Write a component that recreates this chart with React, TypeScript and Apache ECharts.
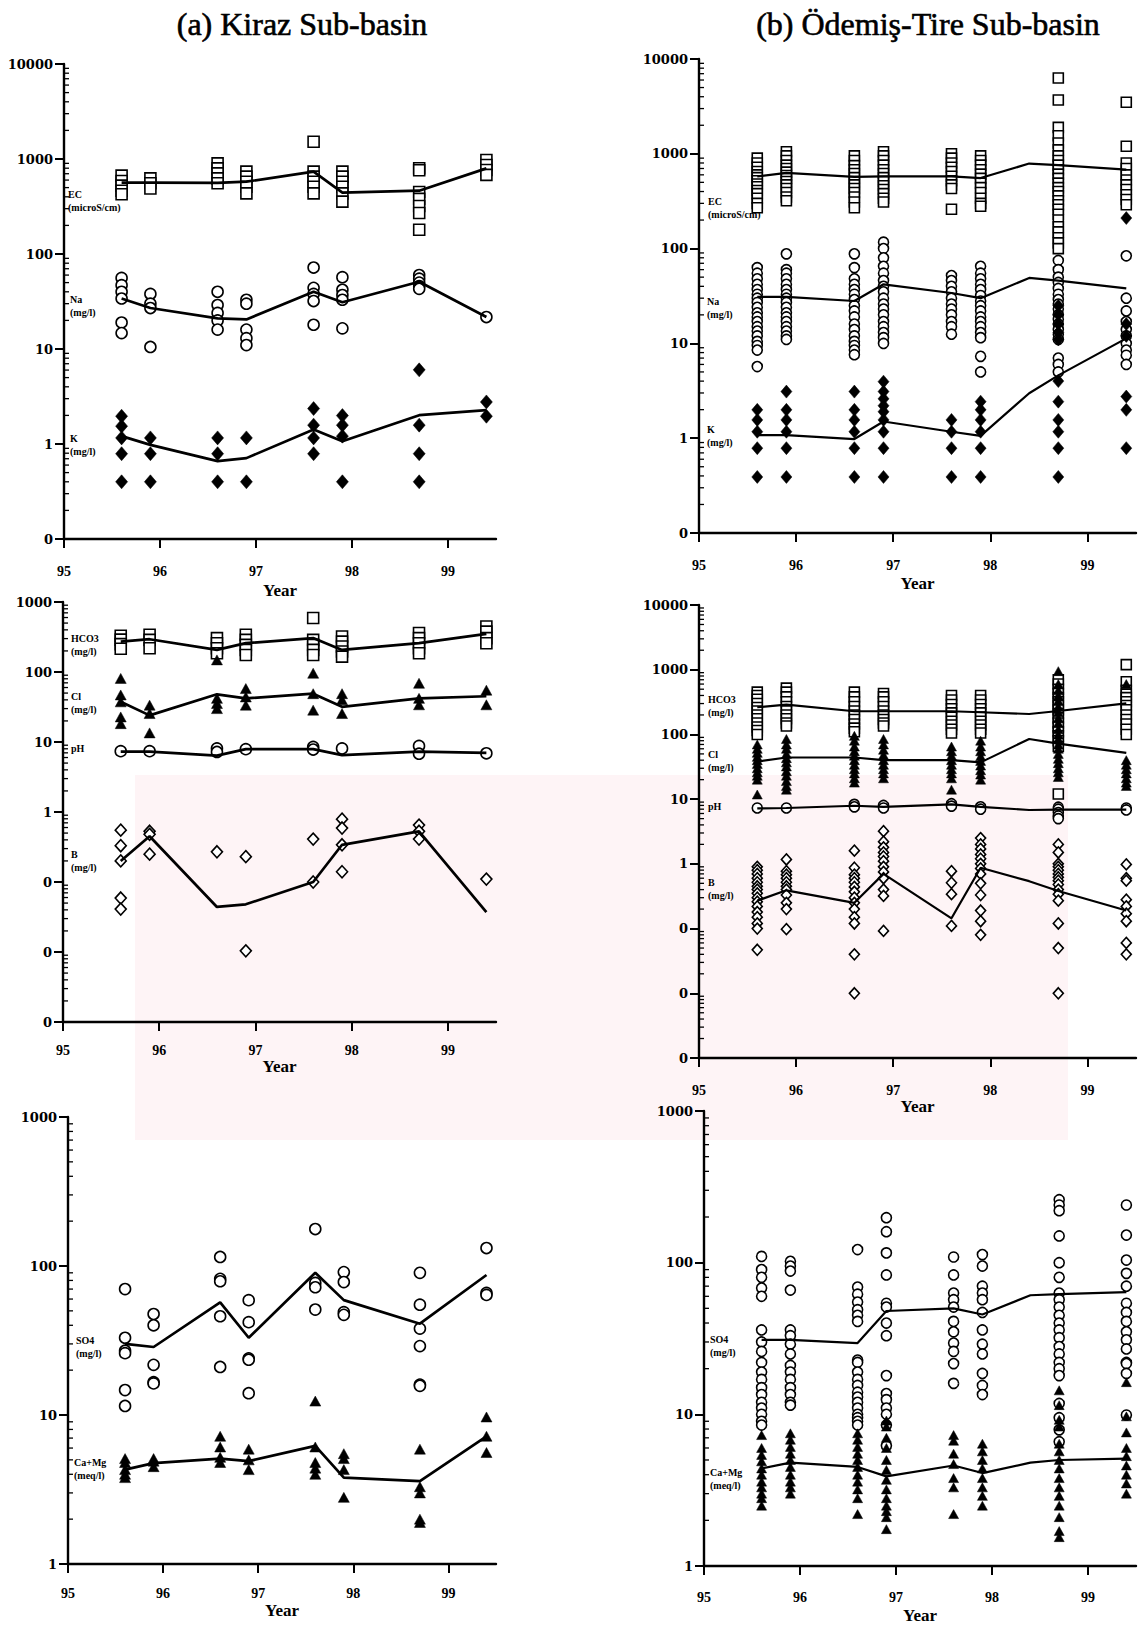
import React, { useEffect, useRef } from 'react';
import * as echarts from 'echarts';

// ---------- categories / ticks ----------
const YEARS = [95.6, 95.9, 96.6, 96.9, 97.6, 97.9, 98.7, 99.4];
const LINE_YEARS_B = [95.6, 95.9, 96.6, 96.9, 97.6, 97.9, 98.4, 98.7, 99.4];
const X_TICKS = [95, 96, 97, 98, 99];

// ---------- (a) Kiraz ----------
const A_EC = [[668, 586, 524, 464, 425], [626, 555, 490], [900, 797, 706, 626, 555], [736, 652, 577, 511, 435], [1520, 736, 652, 577, 511, 435], [736, 652, 577, 511, 435, 356], [800, 760, 450, 380, 320, 270, 180], [976, 865, 766, 680]];
const A_EC_LINE = [564, 564, 560, 577, 736, 442, 464, 797];
const A_NA = [[56, 47, 40, 34, 19, 14.7], [38, 30, 27, 10.5], [40, 29, 24, 20, 16], [33, 30, 16, 13, 11], [72, 44, 38, 32, 18], [57, 42, 37, 33, 16.5], [60, 55, 50, 46, 43], [21.7]];
const A_NA_LINE = [34, 27, 21, 20.5, 40, 31, 51, 21.7];
const A_K = [[1.96, 1.54, 1.16, 0.79, 0.4], [1.16, 0.79, 0.4], [1.16, 0.79, 0.4], [1.16, 0.4], [2.36, 1.58, 1.16, 0.79], [1.99, 1.58, 1.21, 0.4], [6.03, 1.58, 0.79, 0.4], [2.77, 1.96]];
const A_K_LINE = [1.21, 0.98, 0.66, 0.71, 1.42, 1.07, 2.01, 2.27];

const A_HCO3 = [[330, 290, 250, 215], [340, 288, 218], [305, 258, 218, 185], [340, 288, 244, 207, 175], [590, 288, 244, 207, 175], [322, 272, 231, 196, 166], [360, 305, 258, 218, 185], [447, 378, 305, 258]];
const A_HCO3_LINE = [272, 294, 207, 258, 305, 207, 258, 351];
const A_CL = [[81, 47, 37.5, 22.8, 18.3], [33.6, 25.5, 13.5], [149, 42, 35.5, 30], [58, 44, 33.6], [96, 49, 28.5], [49, 40, 25.5], [69, 42, 34], [55, 34]];
const A_CL_LINE = [37.5, 24, 48, 42, 49, 31.8, 42, 45];
const A_PH = [[7.4], [7.4], [8.1, 7.2], [7.9], [8.5, 7.8], [8.1], [8.8, 6.8], [6.9]];
const A_PH_LINE = [7.3, 7.3, 6.4, 7.9, 7.9, 6.5, 7.3, 7.0];
const A_B = [[0.55, 0.33, 0.2, 0.059, 0.041], [0.53, 0.48, 0.25], [0.27], [0.23, 0.0104], [0.41, 0.1], [0.79, 0.59, 0.34, 0.14], [0.65, 0.53, 0.41], [0.11]];
const A_B_LINE = [0.2, 0.45, 0.044, 0.048, 0.1, 0.34, 0.53, 0.037];

const A_SO4 = [[70, 33, 27, 26, 14.7, 11.5], [47.6, 40, 21.7, 16.6, 16.3], [115, 82, 79, 46, 21], [59, 42, 24, 23.5, 14], [177, 77, 72, 51], [91, 78, 49, 47], [90, 55, 38, 29, 16, 15.7], [132, 66, 64]];
const A_SO4_LINE = [30, 28.6, 57, 33, 90, 59, 41, 87];
const A_CAMG = [[5.1, 4.8, 4.3, 4.0, 3.8], [5.1, 4.9, 4.5], [7.2, 6.1, 5.2, 4.8], [5.9, 5.0, 4.3], [12.4, 6.1, 4.8, 4.4, 4.0], [5.5, 5.1, 4.3, 2.8], [5.9, 3.3, 3.0, 2.0, 1.9], [9.7, 7.2, 5.6]];
const A_CAMG_LINE = [4.3, 4.75, 5.1, 4.9, 6.2, 3.8, 3.6, 7.2];

// ---------- (b) Ödemiş-Tire ----------
const B_EC = [
  [900, 800, 720, 650, 600, 560, 520, 480, 450, 410, 380, 340, 300, 270],
  [1050, 950, 850, 760, 700, 640, 590, 550, 510, 470, 430, 390, 350, 320],
  [950, 850, 750, 680, 620, 560, 510, 470, 430, 390, 350, 310, 270],
  [1050, 950, 850, 760, 680, 620, 560, 510, 460, 420, 380, 340, 310],
  [1000, 900, 800, 720, 650, 580, 520, 470, 430, 260],
  [950, 850, 760, 680, 610, 550, 490, 440, 390, 340, 300, 280],
  [6300, 3700, 1900, 1550, 1300, 1100, 950, 850, 760, 680, 610, 550, 490, 440, 400, 360, 320, 290, 260, 230, 200, 170, 150, 130, 115, 100],
  [3500, 1200, 800, 700, 600, 530, 470, 420, 370, 330, 290],
];
const B_EC_LINE = [578, 628, 570, 578, 578, 555, 789, 758, 681];
const B_NA = [
  [63, 55, 48, 42, 37, 33, 30, 27, 24, 21, 19, 17, 15, 13.5, 12, 10.5, 9.5, 8.5, 5.7],
  [88, 60, 55, 48, 42, 37, 33, 30, 27, 24, 21, 19, 17, 15, 13.5, 12, 11],
  [88, 63, 48, 42, 37, 33, 29, 25, 22, 19, 16, 14, 12, 10.5, 9.5, 8.5, 7.6],
  [117, 100, 80, 65, 55, 46, 40, 35, 30, 26, 23, 20, 17, 15, 13, 11.5, 10],
  [52, 46, 40, 35, 30, 26, 23, 20, 17, 15, 12.5],
  [65, 55, 48, 42, 37, 32, 28, 25, 22, 19, 17, 15, 13, 11.5, 7.3, 5.0],
  [75, 60, 50, 44, 38, 33, 29, 26, 23, 20, 18, 16, 14, 12.5, 11, 7.0, 6.0, 5.0],
  [84, 30, 22, 17, 14, 12, 10, 8.5, 7.5, 6.0],
];
const B_NA_LINE = [31, 31, 28, 42, 34, 30, 49, 46, 38];
const B_K = [
  [1.99, 1.56, 1.17, 0.785, 0.39],
  [3.1, 1.99, 1.56, 1.17, 0.785, 0.39],
  [3.1, 1.99, 1.56, 1.17, 0.785, 0.39],
  [3.95, 3.1, 2.6, 2.2, 1.9, 1.56, 1.17, 0.785, 0.39],
  [1.56, 1.17, 0.785, 0.39],
  [2.43, 1.99, 1.56, 1.17, 0.785, 0.39],
  [25, 20, 16, 13, 11, 4.0, 2.43, 1.56, 1.17, 0.785, 0.39],
  [210, 16, 12, 2.75, 1.99, 0.785],
];
const B_K_LINE = [1.08, 1.08, 0.98, 1.5, 1.17, 1.06, 2.98, 4.6, 11.3];

const B_HCO3 = [
  [450, 400, 350, 300, 260, 230, 200, 175, 150, 130, 115, 100],
  [520, 450, 380, 320, 270, 230, 200, 175, 150, 135],
  [450, 380, 320, 270, 230, 200, 170, 145, 125, 110],
  [430, 380, 320, 270, 230, 200, 170, 150, 135],
  [400, 340, 290, 250, 215, 185, 160, 140, 120, 105],
  [400, 340, 290, 250, 215, 185, 160, 140, 120, 105],
  [700, 600, 500, 430, 370, 320, 280, 240, 210, 180, 150, 130, 110, 95, 80, 65, 12],
  [1200, 650, 480, 420, 370, 320, 280, 240, 200, 170, 145, 120, 100],
];
const B_HCO3_LINE = [263, 289, 228, 228, 228, 220, 207, 230, 302];
const B_CL = [
  [70, 60, 52, 45, 40, 35, 30, 26, 23, 20, 11.8],
  [85, 70, 60, 50, 43, 37, 32, 27, 23, 19, 16, 14],
  [95, 80, 65, 55, 47, 40, 34, 29, 25, 21, 18],
  [85, 70, 58, 48, 40, 34, 29, 25, 21],
  [65, 55, 47, 40, 34, 29, 25, 21, 14],
  [80, 65, 55, 46, 39, 33, 28, 24, 20],
  [950, 600, 480, 400, 330, 270, 220, 180, 150, 120, 100, 85, 70, 60, 50, 42, 36, 30, 26, 22],
  [600, 40, 34, 29, 25, 21, 18, 16],
];
const B_CL_LINE = [38, 44, 44, 40, 40, 37, 85, 72, 52];
const B_PH = [[7.3], [7.3], [8.3, 7.6], [8.0, 7.3], [8.5, 7.8], [7.6, 7.0], [7.5, 7.0, 6.2, 5.5, 5.0], [7.3, 6.8]];
const B_PH_LINE = [7.2, 7.3, 7.9, 7.6, 8.3, 7.6, 6.8, 6.9, 6.9];
const B_B = [
  [0.9, 0.8, 0.7, 0.6, 0.52, 0.45, 0.4, 0.35, 0.3, 0.26, 0.22, 0.18, 0.15, 0.12, 0.1, 0.047],
  [1.17, 0.77, 0.68, 0.6, 0.52, 0.45, 0.4, 0.33, 0.25, 0.2, 0.098],
  [1.6, 0.87, 0.68, 0.6, 0.52, 0.44, 0.37, 0.3, 0.25, 0.2, 0.15, 0.12, 0.04, 0.01],
  [3.2, 2.2, 1.8, 1.5, 1.3, 1.1, 0.9, 0.75, 0.6, 0.4, 0.32, 0.092],
  [0.77, 0.51, 0.34, 0.11],
  [2.5, 2.0, 1.7, 1.4, 1.2, 1.0, 0.85, 0.7, 0.5, 0.33, 0.19, 0.13, 0.08],
  [2.0, 1.5, 1.0, 0.9, 0.8, 0.7, 0.62, 0.55, 0.48, 0.4, 0.34, 0.27, 0.12, 0.05, 0.01],
  [0.98, 0.6, 0.55, 0.28, 0.22, 0.17, 0.13, 0.06, 0.04],
];
const B_B_LINE = [0.27, 0.39, 0.25, 0.7, 0.144, 0.87, 0.54, 0.38, 0.19];

const B_SO4 = [
  [110, 90, 80, 68, 60, 36, 30, 26, 22, 19, 17, 15, 13.5, 12, 11, 10, 9, 8.5],
  [102, 95, 88, 66, 36, 33, 29, 25, 21, 19, 17, 15, 13.5, 12, 11.5],
  [122, 69, 62, 55, 49, 45, 41, 22.8, 22, 19, 17, 15.5, 14, 13, 12, 11, 10, 9.5, 9, 8.5],
  [198, 160, 116, 83, 54, 51, 40, 33, 18, 13.7, 12.5, 11, 10, 8.5, 6.2],
  [109, 83, 63, 57, 51, 41, 35, 29.5, 26, 21.6, 16],
  [113, 95, 70, 63, 57, 47, 36, 29, 25, 18.6, 15.5, 13.5],
  [260, 240, 220, 150, 100, 80, 63, 57, 51, 45, 40, 36, 32, 28, 25, 22, 20, 18, 11.8, 9.5, 7.9, 6.6],
  [240, 152, 104, 85, 70, 54, 47, 41, 35, 31, 27, 22, 21.6, 18.6, 9.9],
];
const B_SO4_LINE = [31, 31, 29.5, 48, 50, 45.5, 61, 62, 64];
const B_CAMG = [
  [7.3, 6.0, 5.4, 4.9, 4.4, 4.0, 3.6, 3.3, 3.0, 2.8, 2.5],
  [7.5, 6.8, 6.1, 5.5, 5.0, 4.5, 4.0, 3.6, 3.3, 3.0],
  [7.5, 6.8, 6.1, 5.5, 5.0, 4.5, 4.0, 3.6, 3.2, 2.8, 2.2],
  [9.1, 8.3, 7.0, 6.0, 5.0, 4.3, 3.7, 3.2, 2.8, 2.5, 2.3, 2.1, 1.75],
  [7.3, 6.7, 5.5, 4.7, 3.8, 3.3, 2.2],
  [6.4, 5.7, 5.0, 4.4, 3.8, 3.3, 2.9, 2.5],
  [14.4, 11.5, 9.2, 8.3, 6.4, 5.7, 5.0, 4.4, 3.8, 3.3, 2.9, 2.5, 2.1, 1.7, 1.55],
  [16.3, 9.7, 7.6, 6.0, 5.3, 4.6, 4.0, 3.5, 3.0],
];
const B_CAMG_LINE = [4.4, 4.8, 4.5, 3.9, 4.6, 4.1, 4.8, 5.0, 5.1];

// ---------- layout ----------
const SERIF = '"Liberation Serif", "Times New Roman", serif';
const WIDE = '"DejaVu Serif", serif';

const PANELS = [
  { left: 64, top: 64, width: 432, height: 475, min: 0.1, max: 10000, side: 'a' },
  { left: 699, top: 59, width: 437, height: 474, min: 0.1, max: 10000, side: 'b' },
  { left: 63, top: 602, width: 433, height: 420, min: 0.001, max: 1000, side: 'a' },
  { left: 699, top: 605, width: 437, height: 453, min: 0.001, max: 10000, side: 'b' },
  { left: 68, top: 1117, width: 428, height: 447, min: 1, max: 1000, side: 'a' },
  { left: 704, top: 1111, width: 432, height: 455, min: 1, max: 1000, side: 'b' },
];
const X_LABEL_MARGIN = [25, 25, 21, 25, 22, 24];
const X_NAME_GAP = [43, 42, 35, 39, 38, 41];

// faint watermark area of the scanned page (background only)
const WM_BOX = { x: 135, y: 775, w: 933, h: 365 };

type Kind = 'square' | 'circle' | 'fdiamond' | 'triangle' | 'odiamond';
const PANEL_SERIES: { cols: number[][]; line: number[]; kind: Kind }[][] = [
  [{ cols: A_EC, line: A_EC_LINE, kind: 'square' }, { cols: A_NA, line: A_NA_LINE, kind: 'circle' }, { cols: A_K, line: A_K_LINE, kind: 'fdiamond' }],
  [{ cols: B_EC, line: B_EC_LINE, kind: 'square' }, { cols: B_NA, line: B_NA_LINE, kind: 'circle' }, { cols: B_K, line: B_K_LINE, kind: 'fdiamond' }],
  [{ cols: A_HCO3, line: A_HCO3_LINE, kind: 'square' }, { cols: A_CL, line: A_CL_LINE, kind: 'triangle' }, { cols: A_PH, line: A_PH_LINE, kind: 'circle' }, { cols: A_B, line: A_B_LINE, kind: 'odiamond' }],
  [{ cols: B_HCO3, line: B_HCO3_LINE, kind: 'square' }, { cols: B_CL, line: B_CL_LINE, kind: 'triangle' }, { cols: B_PH, line: B_PH_LINE, kind: 'circle' }, { cols: B_B, line: B_B_LINE, kind: 'odiamond' }],
  [{ cols: A_SO4, line: A_SO4_LINE, kind: 'circle' }, { cols: A_CAMG, line: A_CAMG_LINE, kind: 'triangle' }],
  [{ cols: B_SO4, line: B_SO4_LINE, kind: 'circle' }, { cols: B_CAMG, line: B_CAMG_LINE, kind: 'triangle' }],
];

const PARAM_LABELS = [
  { x: 68, y: 188, text: 'EC\n(microS/cm)' },
  { x: 70, y: 293, text: 'Na\n(mg/l)' },
  { x: 70, y: 432, text: 'K\n(mg/l)' },
  { x: 708, y: 195, text: 'EC\n(microS/cm)' },
  { x: 707, y: 295, text: 'Na\n(mg/l)' },
  { x: 707, y: 423, text: 'K\n(mg/l)' },
  { x: 71, y: 632, text: 'HCO3\n(mg/l)' },
  { x: 71, y: 690, text: 'Cl\n(mg/l)' },
  { x: 71, y: 742, text: 'pH' },
  { x: 71, y: 848, text: 'B\n(mg/l)' },
  { x: 708, y: 693, text: 'HCO3\n(mg/l)' },
  { x: 708, y: 748, text: 'Cl\n(mg/l)' },
  { x: 708, y: 800, text: 'pH' },
  { x: 708, y: 876, text: 'B\n(mg/l)' },
  { x: 76, y: 1334, text: 'SO4\n(mg/l)' },
  { x: 74, y: 1456, text: 'Ca+Mg\n(meq/l)' },
  { x: 710, y: 1333, text: 'SO4\n(mg/l)' },
  { x: 710, y: 1466, text: 'Ca+Mg\n(meq/l)' },
];

function points(years: number[], cols: number[][]) {
  const out: number[][] = [];
  cols.forEach((vals, i) => vals.forEach((v) => out.push([years[i], v])));
  return out;
}
function linePts(xs: number[], ys: number[]) {
  return xs.map((x, i) => [x, ys[i]]);
}
function minorTicks(min: number, max: number) {
  const out: number[] = [];
  for (let d = Math.round(Math.log10(min)); d < Math.round(Math.log10(max)); d++) {
    for (let m = 2; m <= 9; m++) out.push(m * Math.pow(10, d));
  }
  return out;
}

function symbolStyle(kind: Kind, side: string) {
  const big = side === 'a';
  switch (kind) {
    case 'square':
      return { symbol: 'rect', symbolSize: big ? [11, 11] : [10, 10], filled: false };
    case 'circle':
      return { symbol: 'circle', symbolSize: big ? 11 : 10, filled: false };
    case 'fdiamond':
      return { symbol: 'diamond', symbolSize: big ? [12, 14] : [11, 13], filled: true };
    case 'triangle':
      return { symbol: 'triangle', symbolSize: big ? [11, 10] : [10, 9], filled: true };
    default:
      return { symbol: 'diamond', symbolSize: big ? [11, 12] : [10, 11], filled: false };
  }
}

export default function App() {
  const ref = useRef<HTMLDivElement>(null);
  useEffect(() => {
    if (!ref.current) return;
    const chart = echarts.init(ref.current, null, { renderer: 'svg' });

    const grid: any[] = [];
    const xAxis: any[] = [];
    const yAxis: any[] = [];
    const series: any[] = [];

    PANELS.forEach((p, i) => {
      grid.push({ left: p.left, top: p.top, width: p.width, height: p.height, containLabel: false, outerBoundsMode: 'none' });
      xAxis.push({
        gridIndex: i,
        type: 'value',
        min: 95,
        max: 99.5,
        interval: 1,
        name: 'Year',
        nameLocation: 'middle',
        nameGap: X_NAME_GAP[i],
        nameTextStyle: { fontFamily: SERIF, fontWeight: 'bold', fontSize: 17, color: '#000' },
        axisLine: { show: true, onZero: false, lineStyle: { color: '#000', width: 2.4 } },
        axisTick: { show: true, customValues: X_TICKS, length: 9, inside: false, lineStyle: { color: '#000', width: 2 } },
        axisLabel: { customValues: X_TICKS, margin: X_LABEL_MARGIN[i], fontFamily: SERIF, fontWeight: 'bold', fontSize: 14, color: '#000' },
        splitLine: { show: false },
        z: 4,
      });
      const decades = Math.round(Math.log10(p.max) - Math.log10(p.min));
      yAxis.push({
        gridIndex: i,
        type: 'log',
        logBase: 10,
        min: p.min,
        max: p.max,
        splitNumber: decades,
        axisLine: { show: true, onZero: false, lineStyle: { color: '#000', width: 2.4 } },
        axisTick: { show: true, length: 9, inside: false, lineStyle: { color: '#000', width: 2 } },
        axisLabel: {
          margin: 11,
          fontFamily: WIDE,
          fontWeight: 'bold',
          fontSize: 13,
          color: '#000',
          formatter: (v: number) => (v >= 1 ? String(Math.round(v)) : '0'),
        },
        splitLine: { show: false },
        minorTick: { show: false },
        z: 4,
      });
      // log minor ticks (2..9 of each decade), drawn through the axis scale
      series.push({
        type: 'custom',
        xAxisIndex: i,
        yAxisIndex: i,
        silent: true,
        clip: false,
        z: 5,
        data: minorTicks(p.min, p.max).map((v) => [95, v]),
        encode: { x: 0, y: 1 },
        renderItem: (params: any, api: any) => {
          const c = api.coord([api.value(0), api.value(1)]);
          return {
            type: 'line',
            shape: { x1: c[0], y1: c[1], x2: c[0] + 5, y2: c[1] },
            style: { stroke: '#000', lineWidth: 1.3 },
          };
        },
      });

      const lineX = p.side === 'a' ? YEARS : LINE_YEARS_B;
      PANEL_SERIES[i].forEach((s, k) => {
        const st = symbolStyle(s.kind, p.side);
        series.push({
          type: 'scatter',
          name: `p${i}s${k}`,
          xAxisIndex: i,
          yAxisIndex: i,
          data: points(YEARS, s.cols),
          symbol: st.symbol,
          symbolSize: st.symbolSize,
          silent: true,
          z: 2,
          itemStyle: st.filled
            ? { color: '#000', borderColor: '#000', borderWidth: 0.5, opacity: 1 }
            : { color: '#fff', borderColor: '#000', borderWidth: 1.6, opacity: 1 },
        });
        series.push({
          type: 'line',
          name: `p${i}l${k}`,
          xAxisIndex: i,
          yAxisIndex: i,
          data: linePts(lineX, s.line),
          showSymbol: false,
          symbol: 'none',
          silent: true,
          z: 3,
          lineStyle: { color: '#000', width: p.side === 'a' ? 2.7 : 2.2 },
        });
      });
    });

    const graphic: any[] = [
      {
        type: 'rect',
        z: -30,
        silent: true,
        shape: { x: WM_BOX.x, y: WM_BOX.y, width: WM_BOX.w, height: WM_BOX.h },
        style: { fill: '#fef4f6' },
      },
      {
        type: 'text',
        x: 302,
        y: 24,
        style: { text: '(a) Kiraz Sub-basin', font: `32px ${SERIF}`, fill: '#000', stroke: '#000', lineWidth: 0.6, textAlign: 'center', textVerticalAlign: 'middle' },
      },
      {
        type: 'text',
        x: 928,
        y: 24,
        style: { text: '(b) Ödemiş-Tire Sub-basin', font: `32px ${SERIF}`, fill: '#000', stroke: '#000', lineWidth: 0.6, textAlign: 'center', textVerticalAlign: 'middle' },
      },
      ...PARAM_LABELS.map((l) => ({
        type: 'text',
        x: l.x,
        y: l.y,
        style: { text: l.text, font: `bold 10px ${SERIF}`, fill: '#000', lineHeight: 13, textAlign: 'left', textVerticalAlign: 'top' },
      })),
    ];

    chart.setOption({
      animation: false,
      backgroundColor: '#fff',
      grid,
      xAxis,
      yAxis,
      series,
      graphic,
    });
    return () => chart.dispose();
  }, []);
  return <div ref={ref} style={{ position: 'absolute', left: 0, top: 0, width: 1141, height: 1625, background: '#fff' }} />;
}
